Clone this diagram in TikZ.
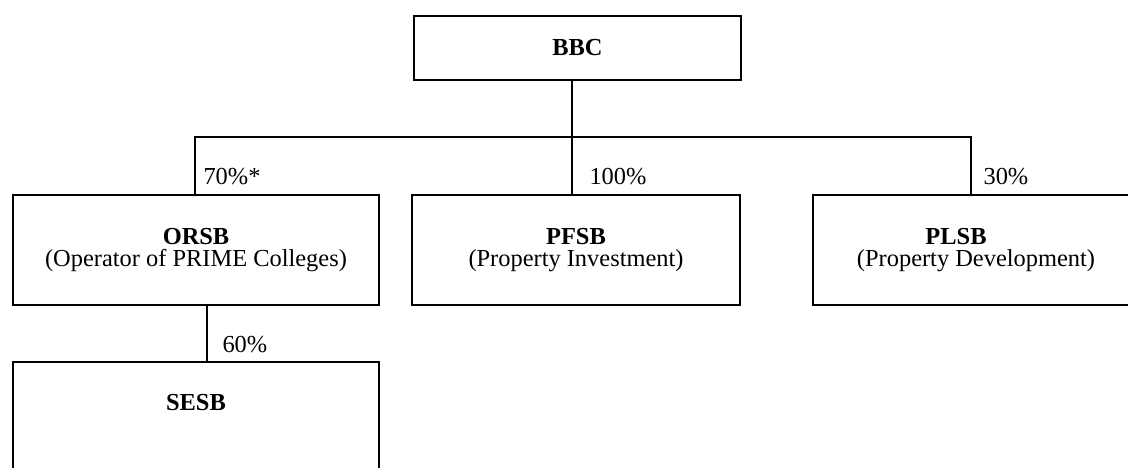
\documentclass[tikz,border=0pt]{standalone}
\usepackage{fontspec}
\setmainfont{Liberation Serif}
\begin{document}
\begin{tikzpicture}[x=0.02cm,y=-0.02cm,
                box/.style={draw,line width=1pt,align=center,inner sep=0pt,font=\fontsize{13.9}{13}\selectfont},
                pct/.style={anchor=base west,inner sep=0pt,font=\fontsize{13.9}{13}\selectfont},
                link/.style={line width=0.6pt}]
                \useasboundingbox (0,0) rectangle (1128,467);
                \node[box,minimum width=6.54cm,minimum height=1.28cm] (BBC) at (577.5,48) {\textbf{BBC}};
                \node[box,minimum width=7.32cm,minimum height=2.2cm] (ORSB) at (196,250) {\textbf{ORSB}\\(Operator of PRIME Colleges)};
                \node[box,minimum width=6.56cm,minimum height=2.2cm] (PFSB) at (576,250) {\textbf{PFSB}\\(Property Investment)};
                \node[box,minimum width=6.52cm,minimum height=2.2cm] (PLSB) at (976,250) {\textbf{PLSB}\hspace*{0.8cm}\\(Property Development)};
                \node[box,minimum width=7.32cm,minimum height=2.2cm] (SESB) at (196,417) {\textbf{SESB}\\\strut};
                \coordinate (bus) at (572,137);
                \coordinate (sub) at (207,330);
                \draw[link] (bus |- BBC.south) -- (bus);
                \draw[link] (bus) -| ([xshift=-0.1cm]PLSB.north) node[pct,xshift=0.24cm,yshift=0.2cm]{30\%};
                \draw[link] (bus) -| ([xshift=-0.02cm]ORSB.north) node[pct,xshift=0.16cm,yshift=0.2cm]{70\%*};
                \draw[link] (bus) -- (bus |- PFSB.north) node[pct,xshift=0.34cm,yshift=0.2cm]{100\%};
                \draw[link] (sub |- ORSB.south) -- (sub |- SESB.north) node[pct,xshift=0.3cm,yshift=0.18cm]{60\%};
            \end{tikzpicture}
\end{document}
